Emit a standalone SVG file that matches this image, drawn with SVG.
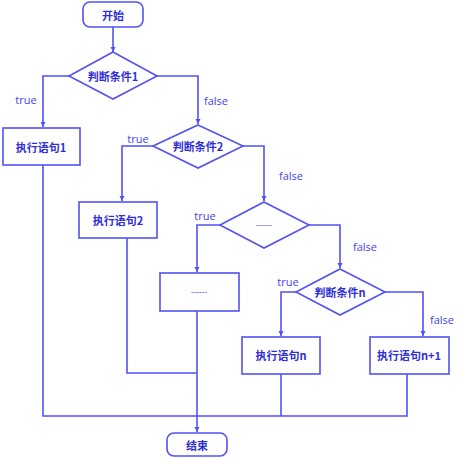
<svg xmlns="http://www.w3.org/2000/svg" width="466" height="459" viewBox="0 0 466 459">
<style>
.n{fill:#fff;stroke:#5252f5;stroke-width:1.6}
.c{fill:none;stroke:#5252f5;stroke-width:1.6}
.t{font-family:"Noto Sans CJK SC","Liberation Serif",serif;font-size:11px;font-weight:bold;fill:#2f2fd8;text-anchor:middle;dominant-baseline:central}
.d{font-family:"Liberation Sans",sans-serif;font-size:8px;fill:#2f2fd8;text-anchor:middle;dominant-baseline:central}
.l{font-family:"Open Sans","Liberation Sans",sans-serif;font-size:11px;fill:#4444ea;text-anchor:middle;dominant-baseline:central}
</style>
<defs>
<marker id="a" markerWidth="6" markerHeight="6" refX="5" refY="3" orient="auto" markerUnits="userSpaceOnUse">
<path d="M0,0.5 L5,3 L0,5.5 Z" fill="#5252f5"/>
</marker>
</defs>
<g id="connectors">
<path class="c" d="M113,27 V52" marker-end="url(#a)"/>
<path class="c" d="M69,76 H43 V127" marker-end="url(#a)"/>
<path class="c" d="M157,76 H198 V124" marker-end="url(#a)"/>
<path class="c" d="M153,146 H122 V201" marker-end="url(#a)"/>
<path class="c" d="M243,146 H264 V201" marker-end="url(#a)"/>
<path class="c" d="M220,225 H197 V272" marker-end="url(#a)"/>
<path class="c" d="M309,225 H340 V268" marker-end="url(#a)"/>
<path class="c" d="M296,292 H281 V336" marker-end="url(#a)"/>
<path class="c" d="M385,292 H423 V336" marker-end="url(#a)"/>
<path class="c" d="M43,165 V416 H407 V374"/>
<path class="c" d="M281,374 V416"/>
<path class="c" d="M127,238 V373 H197"/>
<path class="c" d="M197,311 V432" marker-end="url(#a)"/>
<text class="l" x="26" y="99">true</text>
<text class="l" x="216" y="100">false</text>
<text class="l" x="138" y="138">true</text>
<text class="l" x="291" y="175">false</text>
<text class="l" x="205" y="215">true</text>
<text class="l" x="365" y="246">false</text>
<text class="l" x="288" y="281">true</text>
<text class="l" x="442" y="319">false</text>
</g>
<g id="start"><rect class="n" x="83" y="2" width="60" height="25" rx="7"/><text class="t" x="113" y="14.5">开始</text></g>
<g id="cond1"><polygon class="n" points="113,52 157,76 113,99 69,76"/><text class="t" x="113" y="76">判断条件1</text></g>
<g id="stmt1"><rect class="n" x="3" y="128" width="77" height="37"/><text class="t" x="41" y="147">执行语句1</text></g>
<g id="cond2"><polygon class="n" points="198,125 243,146 198,168 153,146"/><text class="t" x="198" y="146">判断条件2</text></g>
<g id="stmt2"><rect class="n" x="79" y="202" width="78" height="36"/><text class="t" x="118" y="220">执行语句2</text></g>
<g id="cond3"><polygon class="n" points="264,202 309,225 264,248 220,225"/><text class="d" x="264" y="224">------</text></g>
<g id="stmt3"><rect class="n" x="160" y="273" width="79" height="38"/><text class="d" x="199" y="291">------</text></g>
<g id="condn"><polygon class="n" points="340,269 385,292 340,315 296,292"/><text class="t" x="340" y="292">判断条件n</text></g>
<g id="stmtn"><rect class="n" x="242" y="337" width="78" height="37"/><text class="t" x="281" y="355">执行语句n</text></g>
<g id="stmtn1"><rect class="n" x="370" y="337" width="79" height="37"/><text class="t" x="409" y="355">执行语句n+1</text></g>
<g id="end"><rect class="n" x="167" y="433" width="60" height="23" rx="7"/><text class="t" x="197" y="444.5">结束</text></g>
</svg>
